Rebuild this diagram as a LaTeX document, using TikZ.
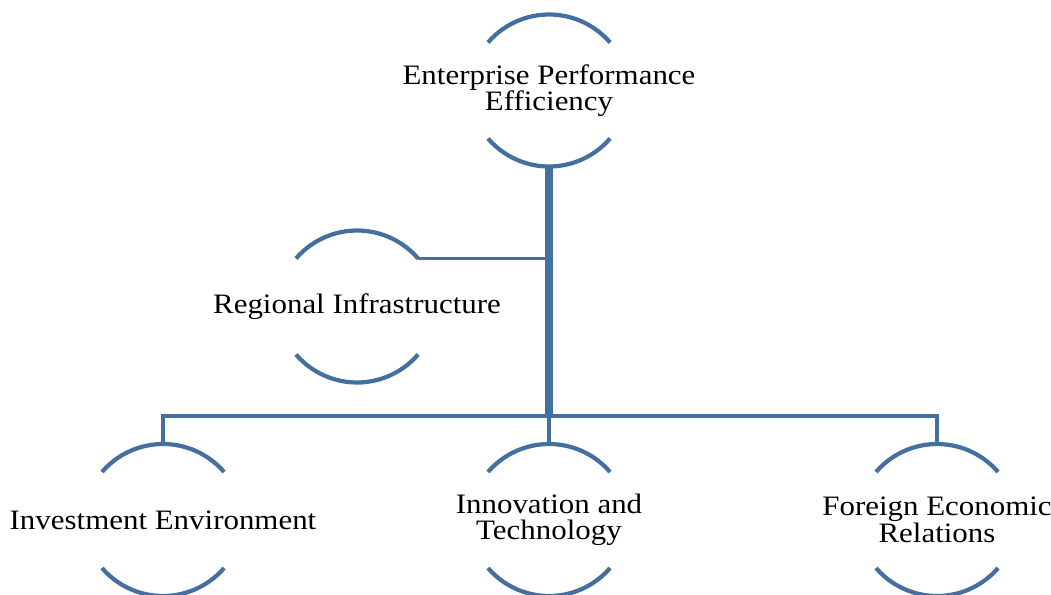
\documentclass[tikz,border=0pt]{standalone}
\usepackage{fontspec}
\setmainfont{Liberation Serif}[FakeStretch=1.1]
\usepackage{tikz}
\usetikzlibrary{calc}
\definecolor{ringBlue}{HTML}{44709F}

\begin{document}
\begin{tikzpicture}[
    factor/.style={align=center, inner sep=0pt, minimum width=2.44cm, minimum height=3.04cm,
      font=\fontsize{16}{15}\selectfont},
    ring/.style={draw=ringBlue, line width=2.4pt},
    link/.style={draw=ringBlue, line width=2.2pt},
    trunk/.style={draw=ringBlue, line width=4.6pt}]
  % page: 1 px of the layout = 0.02 cm
  \useasboundingbox (0,0) rectangle (21.02,11.88);
  % factors
  \node[factor] (eff) at (10.98,10.07) {Enterprise Performance\\Efficiency};
  \node[factor] (infra) at (7.14,5.75) {Regional Infrastructure};
  \node[factor] (invest) at (3.26,1.48) {Investment Environment};
  \node[factor] (innov) at (10.98,1.48) {Innovation and\\Technology};
  \node[factor] (foreign) at (18.74,1.48) {Foreign Economic\\Relations};
  % open arcs above and below every label
  \def\hc{1.22}
  \def\ey{0.96}
  \def\rr{1.61}
  \foreach \n in {eff, infra, invest, innov, foreign} {
    \draw[ring] (\n.center) ++(-\hc,\ey) arc[start angle=139.3, end angle=40.7, radius=\rr];
    \draw[ring] (\n.center) ++(-\hc,-\ey) arc[start angle=-139.3, end angle=-40.7, radius=\rr];
  }
  % connectors
  \coordinate (hub) at ([yshift=0.56cm]innov.north);
  \coordinate (infraend) at ($(infra.center)+(\hc,\ey)$);
  \draw[trunk] (eff.south) -- (hub);
  \draw[link] (infraend) -- (infraend -| eff.south);
  \draw[link] (invest.north) |- (hub) -| (foreign.north);
  \draw[link] (hub) -- (innov.north);
\end{tikzpicture}
\end{document}
